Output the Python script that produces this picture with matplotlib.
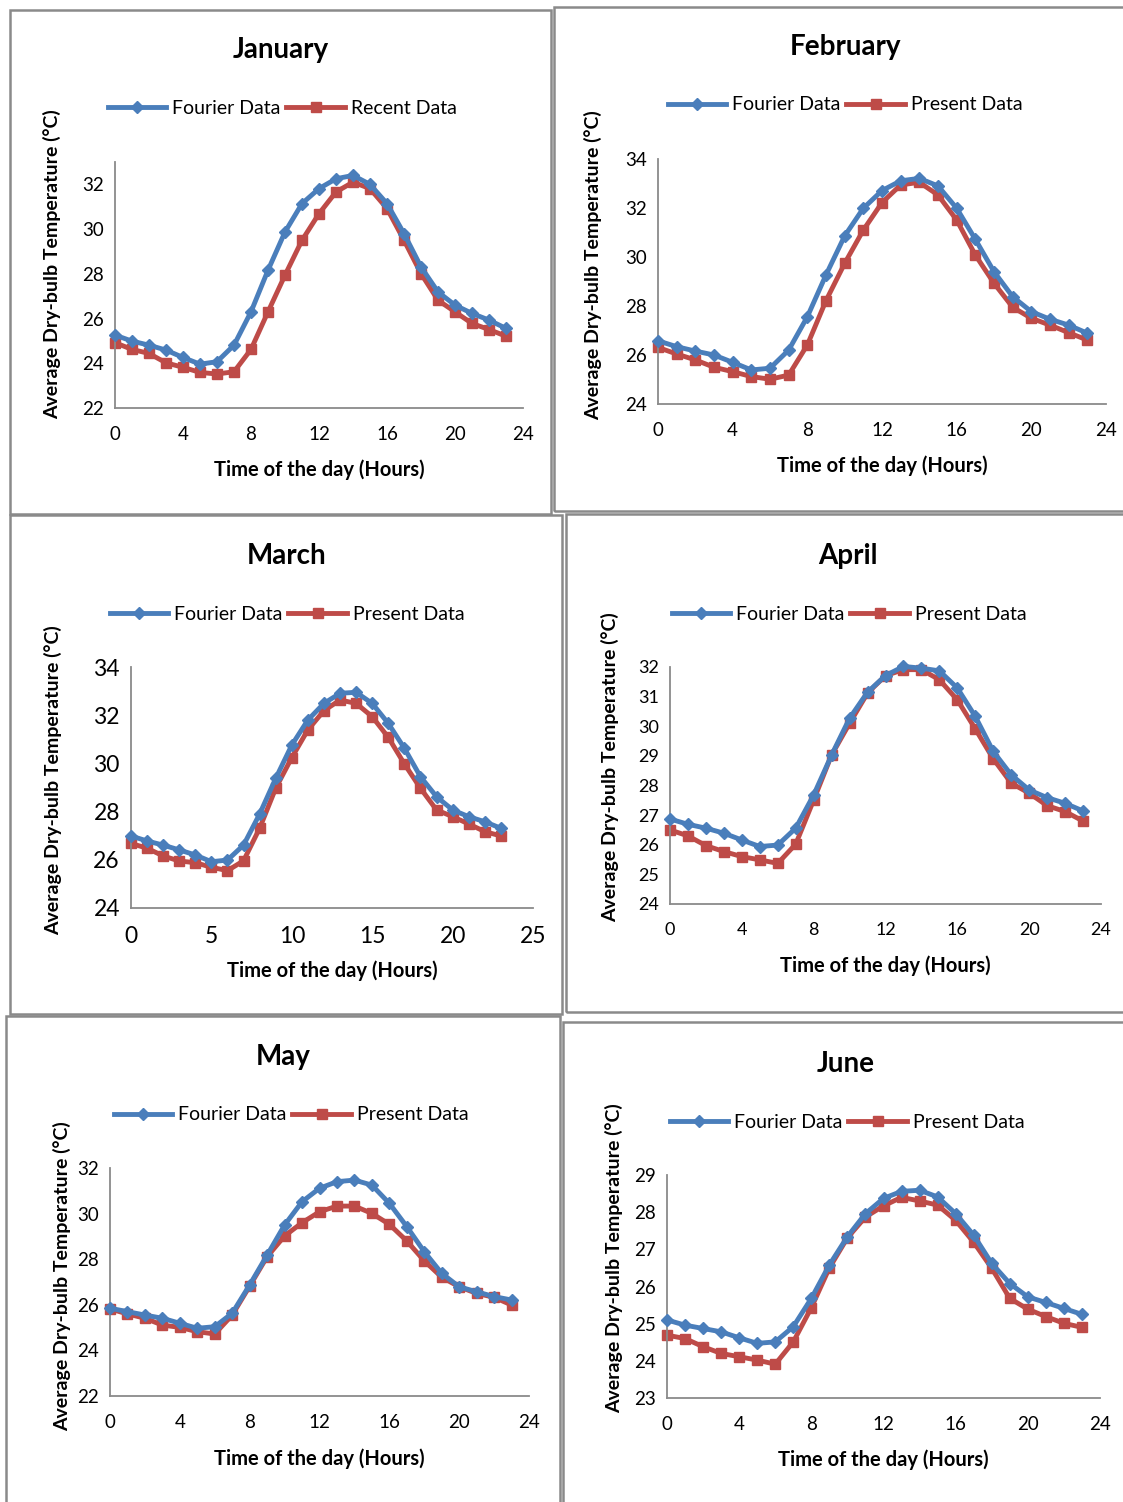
import matplotlib.pyplot as plt
from matplotlib.patches import Rectangle

plt.rcParams['font.family'] = ['Lato', 'DejaVu Sans']

hours = list(range(24))

jan_fourier = [25.26, 24.99, 24.81, 24.59, 24.26, 23.96, 24.07, 24.81, 26.30, 28.16, 29.87, 31.14,
               31.81, 32.25, 32.40, 32.00, 31.14, 29.80, 28.31, 27.19, 26.60, 26.23, 25.93, 25.56]
jan_recent = [24.92, 24.62, 24.44, 24.02, 23.82, 23.59, 23.52, 23.62, 24.62, 26.30, 27.94, 29.50,
              30.69, 31.66, 32.10, 31.81, 30.92, 29.50, 28.01, 26.82, 26.30, 25.78, 25.51, 25.21]

feb_fourier = [26.58, 26.34, 26.16, 26.00, 25.70, 25.39, 25.46, 26.20, 27.56, 29.27, 30.86, 31.99,
               32.71, 33.11, 33.21, 32.90, 31.99, 30.72, 29.40, 28.38, 27.77, 27.46, 27.22, 26.89]
feb_present = [26.31, 26.04, 25.80, 25.50, 25.32, 25.12, 25.01, 25.18, 26.41, 28.22, 29.74, 31.10,
               32.22, 32.94, 33.05, 32.53, 31.51, 30.08, 28.93, 27.95, 27.50, 27.22, 26.91, 26.61]

mar_fourier = [26.99, 26.78, 26.61, 26.41, 26.20, 25.92, 25.99, 26.61, 27.90, 29.38, 30.76, 31.80,
               32.49, 32.91, 32.95, 32.49, 31.66, 30.63, 29.45, 28.62, 28.07, 27.79, 27.58, 27.31]
mar_present = [26.68, 26.48, 26.16, 25.95, 25.88, 25.69, 25.55, 25.96, 27.31, 28.97, 30.24, 31.39,
               32.19, 32.63, 32.49, 31.94, 31.08, 29.98, 28.97, 28.07, 27.79, 27.49, 27.17, 26.99]

apr_fourier = [26.87, 26.69, 26.56, 26.39, 26.16, 25.94, 25.99, 26.56, 27.68, 29.03, 30.27, 31.15,
               31.71, 32.02, 31.96, 31.87, 31.29, 30.33, 29.15, 28.36, 27.85, 27.59, 27.40, 27.14]
apr_present = [26.50, 26.30, 25.97, 25.77, 25.60, 25.49, 25.37, 26.02, 27.51, 29.03, 30.10, 31.12,
               31.71, 31.91, 31.91, 31.57, 30.89, 29.91, 28.90, 28.08, 27.74, 27.32, 27.12, 26.80]

may_fourier = [25.85, 25.70, 25.55, 25.41, 25.19, 24.97, 25.04, 25.63, 26.87, 28.18, 29.50, 30.52,
               31.11, 31.40, 31.47, 31.25, 30.45, 29.43, 28.33, 27.38, 26.79, 26.57, 26.36, 26.21]
may_present = [25.82, 25.60, 25.41, 25.11, 25.01, 24.82, 24.72, 25.55, 26.82, 28.11, 29.02, 29.60,
               30.08, 30.33, 30.33, 30.01, 29.53, 28.80, 27.93, 27.21, 26.79, 26.50, 26.33, 25.99]

jun_fourier = [25.10, 24.96, 24.87, 24.78, 24.62, 24.47, 24.51, 24.92, 25.68, 26.58, 27.34, 27.96,
               28.37, 28.56, 28.59, 28.41, 27.96, 27.38, 26.62, 26.08, 25.72, 25.57, 25.41, 25.25]
jun_present = [24.69, 24.60, 24.38, 24.20, 24.11, 24.02, 23.91, 24.51, 25.43, 26.50, 27.31, 27.87,
               28.17, 28.40, 28.30, 28.19, 27.78, 27.19, 26.49, 25.68, 25.39, 25.19, 25.01, 24.90]

BLUE = "#4A7EBB"
RED = "#BE4B48"
W, H = 1123, 1502

fig = plt.figure(figsize=(W / 100, H / 100), dpi=100)

# (title, fourier, other, other label, frame box, axes box px, ylim, yticks, xlim, xticks,
#  title xy, legend xy, ylabel xy, xlabel y, tick fontsize)
panels = [
    ("January", jan_fourier, jan_recent, "Recent Data", (10, 10, 551, 514),
     (115, 162, 523, 408), (22, 33), range(22, 33, 2), (0, 24), range(0, 25, 4),
     (281, 50), (108, 108), (52, 264), 470, 13.5),
    ("February", feb_fourier, feb_present, "Present Data", (554, 7, 1130, 511),
     (658, 159, 1106, 404), (24, 34), range(24, 35, 2), (0, 24), range(0, 25, 4),
     (845, 47), (668, 105), (593, 265), 466, 13.5),
    ("March", mar_fourier, mar_present, "Present Data", (10, 515, 562, 1014),
     (131, 667, 533, 908), (24, 34), range(24, 35, 2), (0, 25), range(0, 26, 5),
     (287, 556), (110, 614), (53, 780), 971, 16.5),
    ("April", apr_fourier, apr_present, "Present Data", (566, 514, 1130, 1012),
     (670, 667, 1101, 904), (24, 32), range(24, 33, 1), (0, 24), range(0, 25, 4),
     (848, 556), (672, 614), (610, 767), 966, 13),
    ("May", may_fourier, may_present, "Present Data", (6, 1016, 560, 1510),
     (110, 1168, 529, 1396), (22, 32), range(22, 33, 2), (0, 24), range(0, 25, 4),
     (283, 1057), (114, 1115), (62, 1276), 1459, 13.5),
    ("June", jun_fourier, jun_present, "Present Data", (563, 1022, 1130, 1510),
     (667, 1175, 1100, 1398), (23, 29), range(23, 30, 1), (0, 24), range(0, 25, 4),
     (846, 1064), (670, 1122), (614, 1258), 1460, 13.5),
]

for (title, fourier, other, other_label, frame, box, ylim, yticks, xlim, xticks,
     title_xy, leg_xy, ylab_xy, xlab_y, tfs) in panels:
    fx0, fy0, fx1, fy1 = frame
    fig.patches.append(Rectangle((fx0 / W, 1 - fy1 / H), (fx1 - fx0) / W, (fy1 - fy0) / H,
                                 transform=fig.transFigure, fill=False,
                                 edgecolor="#8a8a8a", linewidth=1.8, zorder=0))

    x0, y0, x1, y1 = box
    ax = fig.add_axes([x0 / W, 1 - y1 / H, (x1 - x0) / W, (y1 - y0) / H])
    l1, = ax.plot(hours, fourier, color=BLUE, lw=3.5, marker="D", ms=6,
                  label="Fourier Data", clip_on=False, zorder=3)
    l2, = ax.plot(hours, other, color=RED, lw=3.5, marker="s", ms=7,
                  label=other_label, clip_on=False, zorder=2)
    ax.set_xlim(*xlim)
    ax.set_ylim(*ylim)
    ax.set_xticks(list(xticks))
    ax.set_yticks(list(yticks))
    for s in ["top", "right"]:
        ax.spines[s].set_visible(False)
    for s in ["left", "bottom"]:
        ax.spines[s].set_color("#8a8a8a")
        ax.spines[s].set_linewidth(1.3)
    ax.tick_params(length=0, labelsize=tfs, colors="black")
    ax.tick_params(axis="y", pad=8)
    ax.tick_params(axis="x", pad=13)

    fig.text(title_xy[0] / W, 1 - title_xy[1] / H, title, ha="center", va="center",
             fontsize=20, fontweight="bold")
    fig.text(ylab_xy[0] / W, 1 - ylab_xy[1] / H, "Average Dry-bulb Temperature (°C)",
             rotation=90, ha="center", va="center", fontsize=14, fontweight="bold")
    fig.text((x0 + x1) / 2 / W, 1 - xlab_y / H, "Time of the day (Hours)",
             ha="center", va="center", fontsize=14.5, fontweight="bold")
    fig.legend(handles=[l1, l2], loc="center left",
               bbox_to_anchor=(leg_xy[0] / W, 1 - leg_xy[1] / H),
               ncol=2, frameon=False, fontsize=14, handlelength=3.0,
               handletextpad=0.3, columnspacing=0.3, borderpad=0, borderaxespad=0)

fig.savefig("out.png", dpi=100)
